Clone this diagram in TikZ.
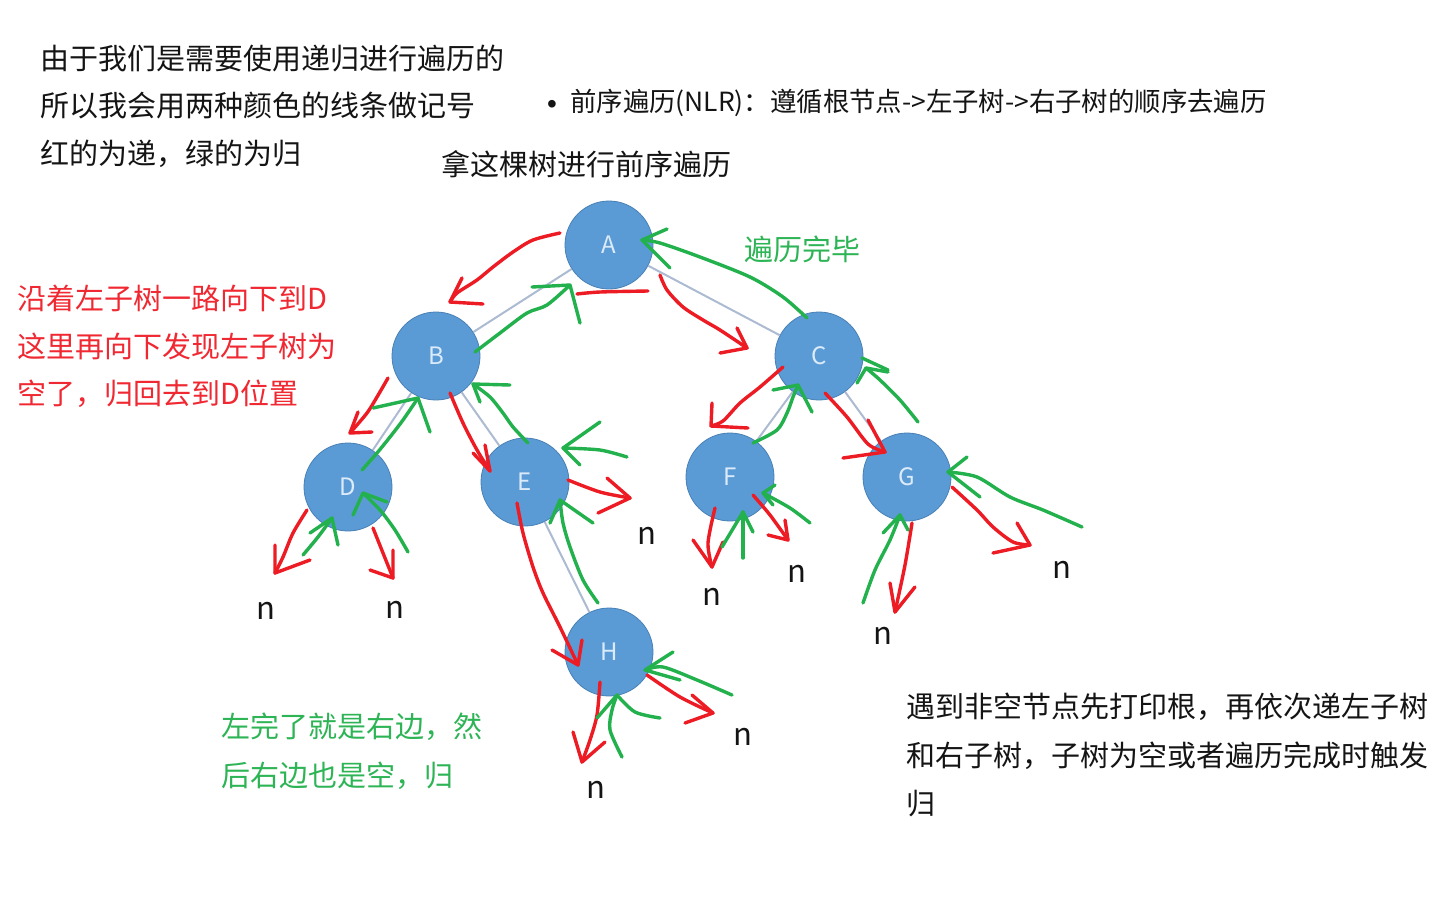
\documentclass[tikz,border=0pt]{standalone}
\usepackage{fontspec}
\setmainfont{Noto Sans CJK SC}
\newfontfamily\bulfont{Liberation Sans}
\definecolor{rd}{RGB}{237,28,36}
\definecolor{gn}{RGB}{34,177,76}
\definecolor{txtrd}{RGB}{240,40,50}
\definecolor{txtgn}{RGB}{45,180,85}
\definecolor{nodeblue}{RGB}{91,155,213}
\definecolor{nodeedge}{RGB}{72,128,182}
\definecolor{edgegray}{RGB}{172,187,210}
\definecolor{lettercol}{RGB}{220,235,250}
\definecolor{txtblk}{RGB}{20,20,20}
\begin{document}
\begin{tikzpicture}[x=1pt,y=-1pt,
  tn/.style={circle,fill=nodeblue,draw=nodeedge,line width=0.8pt,minimum size=88pt,inner sep=0pt,text=lettercol,font=\fontsize{24}{28}\selectfont},
  tedge/.style={draw=edgegray,line width=2pt},
  ra/.style={draw=rd,line width=3.4pt,line cap=round,line join=round},
  ga/.style={draw=gn,line width=3.4pt,line cap=round,line join=round},
  txt/.style={anchor=west,inner sep=0pt,text=txtblk,font=\fontsize{29}{35}\selectfont},
  nl/.style={inner sep=0pt,text=txtblk,font=\fontsize{31}{34}\selectfont}]
\useasboundingbox (0,0) rectangle (1454,898);
\fill[white] (0,0) rectangle (1454,898);

% texts
\node[txt] (t1) at (40,58) {由于我们是需要使用递归进行遍历的};
\node[txt] (t2) at (40,106) {所以我会用两种颜色的线条做记号};
\node[txt] (t3) at (40,154) {红的为递，绿的为归};
\node[inner sep=0pt,anchor=base,text=txtblk,font=\bulfont\fontsize{28}{30}\selectfont] (bul) at (552,113) {•};
\node[txt,font=\fontsize{26.4}{30}\selectfont] (t4) at (570,103) {前序遍历(NLR)：遵循根节点->左子树->右子树的顺序去遍历};
\node[txt] (t5) at (441,164) {拿这棵树进行前序遍历};
\node[txt,text=txtgn] (t6) at (744,249) {遍历完毕};
\node[txt,text=txtrd] (t7) at (17,298) {沿着左子树一路向下到D};
\node[txt,text=txtrd] (t8) at (17,346) {这里再向下发现左子树为};
\node[txt,text=txtrd] (t9) at (17,394) {空了，归回去到D位置};
\node[txt,text=txtgn] (t10) at (221,727) {左完了就是右边，然};
\node[txt,text=txtgn] (t11) at (221,776) {后右边也是空，归};
\node[txt] (t12) at (906,707) {遇到非空节点先打印根，再依次递左子树};
\node[txt] (t13) at (906,756) {和右子树，子树为空或者遍历完成时触发};
\node[txt] (t14) at (906,804) {归};

% n labels
\node[nl] (n1) at (266,611) {n};
\node[nl] (n2) at (395,610) {n};
\node[nl] (n3) at (647,536) {n};
\node[nl] (n4) at (712,597) {n};
\node[nl] (n5) at (797,574) {n};
\node[nl] (n6) at (883,636) {n};
\node[nl] (n7) at (1062,570) {n};
\node[nl] (n8) at (743,737) {n};
\node[nl] (n9) at (596,790) {n};

% tree nodes
\node[tn] (A) at (609,245) {A};
\node[tn] (B) at (436,356) {B};
\node[tn] (C) at (819,356) {C};
\node[tn] (D) at (348,487) {D};
\node[tn] (E) at (525,482) {E};
\node[tn] (F) at (730,477) {F};
\node[tn] (G) at (907,477) {G};
\node[tn] (H) at (609,652) {H};

% tree edges
\draw[tedge] (A) -- (B);
\draw[tedge] (A) -- (C);
\draw[tedge] (B) -- (D);
\draw[tedge] (B) -- (E);
\draw[tedge] (C) -- (F);
\draw[tedge] (C) -- (G);
\draw[tedge] (E) -- (H);

% red strokes (descent)
\draw[ra] plot[smooth] coordinates {(560,233) (533,240) (513,252) (493,267) (477,280) (457,293) (450,302)};
\draw[ra] (462,278) -- (450,302) -- (483,304);
\draw[ra] plot[smooth] coordinates {(577,294) (600,292) (648,291)};
\draw[ra] plot[smooth] coordinates {(660,275) (667,290) (683,307) (703,320) (720,330) (747,348)};
\draw[ra] (737,328) -- (747,348) -- (720,353);
\draw[ra] plot[smooth] coordinates {(388,378) (377,397) (367,413) (350,433)};
\draw[ra] (358,412) -- (350,433) -- (372,432);
\draw[ra] plot[smooth] coordinates {(450,393) (463,423) (477,450) (490,471)};
\draw[ra] (473,453) -- (490,471) -- (485,445);
\draw[ra] plot[smooth] coordinates {(568,480) (600,492) (630,498)};
\draw[ra] (607,478) -- (630,498) -- (598,513);
\draw[ra] plot[smooth] coordinates {(517,503) (523,533) (533,567) (543,593) (560,627) (578,665)};
\draw[ra] (552,650) -- (578,665) -- (582,640);
\draw[ra] plot[smooth] coordinates {(307,510) (293,533) (283,557) (275,573)};
\draw[ra] (275,545) -- (275,573) -- (310,560);
\draw[ra] plot[smooth] coordinates {(373,528) (383,553) (393,578)};
\draw[ra] (393,550) -- (393,578) -- (370,570);
\draw[ra] plot[smooth] coordinates {(783,367) (760,387) (740,403) (723,421) (711,426)};
\draw[ra] (712,403) -- (711,426) -- (748,428);
\draw[ra] plot[smooth] coordinates {(825,393) (847,417) (868,444) (885,452)};
\draw[ra] (868,420) -- (885,452) -- (843,458);
\draw[ra] plot[smooth] coordinates {(715,508) (708,543) (712,567)};
\draw[ra] (693,540) -- (712,567) -- (723,542);
\draw[ra] plot[smooth] coordinates {(753,495) (770,515) (788,540)};
\draw[ra] (785,520) -- (788,540) -- (768,535);
\draw[ra] plot[smooth] coordinates {(912,523) (905,565) (895,612)};
\draw[ra] (890,583) -- (895,612) -- (915,587);
\draw[ra] plot[smooth] coordinates {(952,487) (977,510) (993,527) (1013,542) (1030,545)};
\draw[ra] (1017,523) -- (1030,545) -- (993,553);
\draw[ra] plot[smooth] coordinates {(647,675) (680,697) (713,713)};
\draw[ra] (692,695) -- (713,713) -- (685,723);
\draw[ra] plot[smooth] coordinates {(600,682) (597,715) (590,740) (582,762)};
\draw[ra] (573,732) -- (582,762) -- (605,742);

% green strokes (return)
\draw[ga] plot[smooth] coordinates {(475,352) (500,333) (527,313) (547,305) (570,285)};
\draw[ga] (532,287) -- (570,285) -- (580,323);
\draw[ga] plot[smooth] coordinates {(807,318) (783,297) (750,277) (700,257) (660,243) (642,240)};
\draw[ga] (667,229) -- (642,240) -- (670,268);
\draw[ga] plot[smooth] coordinates {(362,470) (377,453) (390,437) (403,420) (418,398)};
\draw[ga] (373,408) -- (418,398) -- (430,432);
\draw[ga] plot[smooth] coordinates {(528,443) (513,427) (503,413) (490,397) (473,384)};
\draw[ga] (510,385) -- (473,384) -- (480,402);
\draw[ga] plot[smooth] coordinates {(627,457) (600,450) (563,448)};
\draw[ga] (600,422) -- (563,448) -- (580,465);
\draw[ga] plot[smooth] coordinates {(598,603) (583,580) (570,547) (563,523) (560,500)};
\draw[ga] (550,523) -- (560,500) -- (593,523);
\draw[ga] plot[smooth] coordinates {(303,555) (318,537) (332,518)};
\draw[ga] (310,533) -- (332,518) -- (338,545);
\draw[ga] plot[smooth] coordinates {(408,552) (395,530) (380,510) (363,493)};
\draw[ga] (353,515) -- (363,493) -- (387,502);
\draw[ga] plot[smooth] coordinates {(753,443) (777,430) (787,413) (793,397) (798,385)};
\draw[ga] (773,390) -- (798,385) -- (812,412);
\draw[ga] plot[smooth] coordinates {(918,422) (900,400) (880,380) (866,368)};
\draw[ga] (857,383) -- (866,368) -- (888,372);
\draw[ga] (862,358) -- (888,370);
\draw[ga] (743,558) -- (743,512);
\draw[ga] (722,547) -- (743,512) -- (753,532);
\draw[ga] plot[smooth] coordinates {(810,523) (790,508) (763,493)};
\draw[ga] (775,485) -- (763,493) -- (773,505);
\draw[ga] plot[smooth] coordinates {(863,603) (875,570) (890,540) (900,515)};
\draw[ga] (883,533) -- (900,515) -- (908,530);
\draw[ga] plot[smooth] coordinates {(1082,527) (1043,510) (1010,497) (977,477) (948,472)};
\draw[ga] (967,457) -- (948,472) -- (980,497);
\draw[ga] plot[smooth] coordinates {(732,695) (697,680) (663,667) (645,670)};
\draw[ga] (673,652) -- (645,670) -- (680,680);
\draw[ga] plot[smooth] coordinates {(622,757) (610,730) (612,710) (617,695)};
\draw[ga] (597,718) -- (617,695);
\draw[ga] plot[smooth] coordinates {(617,695) (635,712) (660,718)};
\end{tikzpicture}
\end{document}
